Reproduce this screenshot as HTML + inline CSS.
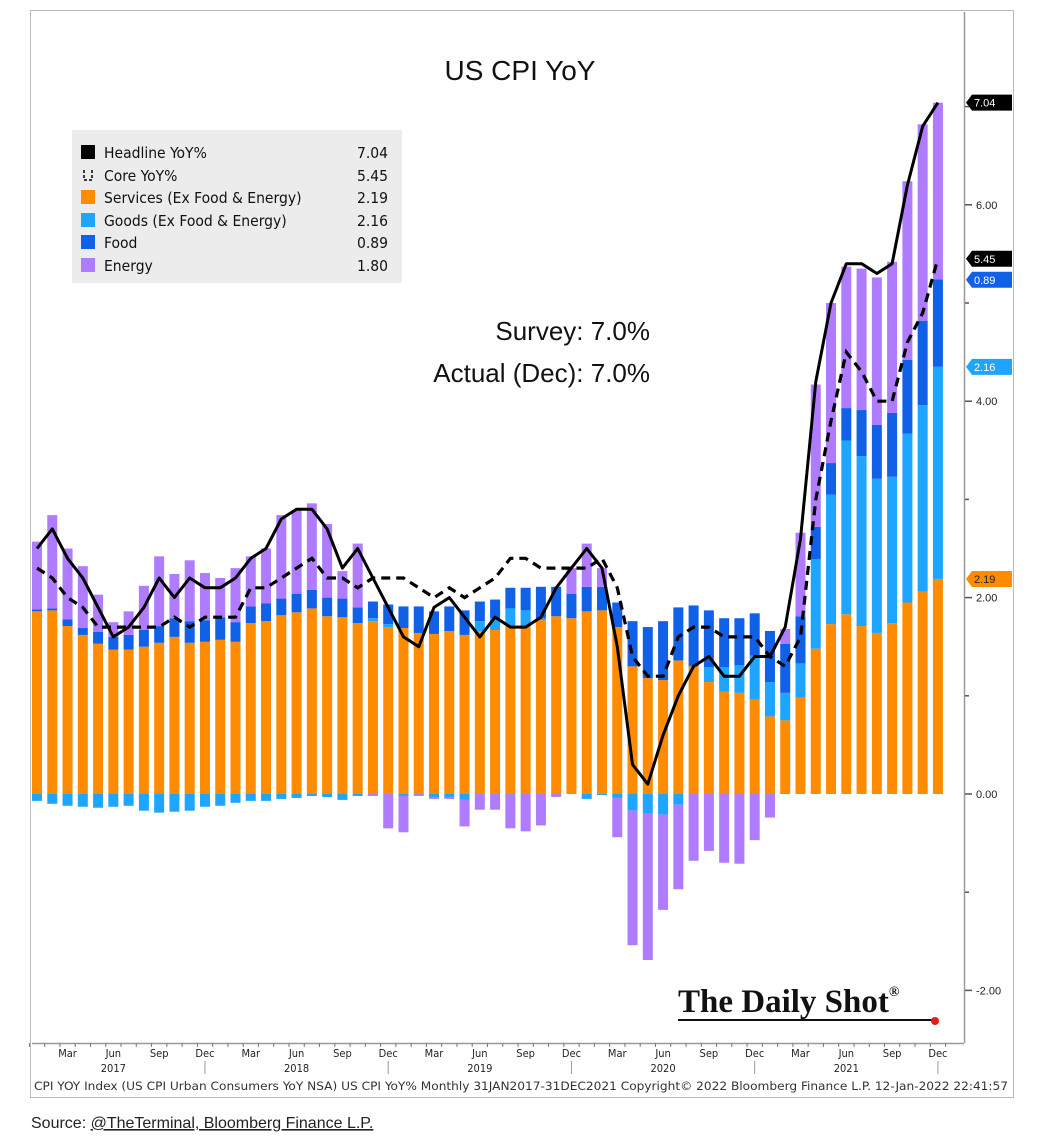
<!DOCTYPE html>
<html><head><meta charset="utf-8"><style>
body{margin:0;background:#fff;}
svg{display:block;font-family:"Liberation Sans",sans-serif;}
</style></head><body>
<svg id="chart" width="1038" height="1148" viewBox="0 0 1038 1148" xmlns="http://www.w3.org/2000/svg">
<rect x="30.5" y="10.5" width="983" height="1087" fill="#fff" stroke="#bbb"/>
<line x1="964.5" y1="12" x2="964.5" y2="1043" stroke="#999" stroke-width="1.5"/>
<line x1="32" y1="1043.5" x2="964" y2="1043.5" stroke="#999" stroke-width="1.5"/>
<text x="520" y="80" font-size="28" text-anchor="middle" fill="#111">US CPI YoY</text>
<g id="bars"></g>
<g id="lines"></g>
<g id="yaxis"></g>
<g id="xaxis"></g>
<g>
<rect x="72" y="130" width="330" height="153" fill="#ececec"/>
<g font-family="'DejaVu Sans Condensed','DejaVu Sans',sans-serif" font-size="15.5" fill="#111">
<rect x="81" y="145" width="14" height="14" fill="#000"/>
<text x="104" y="158">Headline YoY%</text><text x="357" y="158">7.04</text>
<path d="M84 170 v10 h8 v-10" fill="none" stroke="#000" stroke-width="1.5" stroke-dasharray="3,2"/>
<text x="104" y="181">Core YoY%</text><text x="357" y="181">5.45</text>
<rect x="81" y="190" width="14" height="14" fill="#ff8c00"/>
<text x="104" y="203">Services (Ex Food &amp; Energy)</text><text x="357" y="203">2.19</text>
<rect x="81" y="213" width="14" height="14" fill="#1ea5ff"/>
<text x="104" y="226">Goods (Ex Food &amp; Energy)</text><text x="357" y="226">2.16</text>
<rect x="81" y="235" width="14" height="14" fill="#1060e8"/>
<text x="104" y="248">Food</text><text x="357" y="248">0.89</text>
<rect x="81" y="258" width="14" height="14" fill="#b07cff"/>
<text x="104" y="271">Energy</text><text x="357" y="271">1.80</text>
</g></g>
<g font-size="26" fill="#111" text-anchor="end">
<text x="650" y="340">Survey:  7.0%</text>
<text x="650" y="382">Actual (Dec):  7.0%</text>
</g>
<g>
<text x="678" y="1012" font-family="'Liberation Serif',serif" font-weight="bold" font-size="33" fill="#111">The Daily Shot<tspan font-size="14" dy="-16">®</tspan></text>
<line x1="678" y1="1020" x2="935" y2="1020" stroke="#111" stroke-width="2"/>
<circle cx="935" cy="1021" r="4" fill="#e0201b"/>
</g>
<text x="34" y="1090" font-family="'DejaVu Sans Condensed',sans-serif" font-size="11.5" fill="#333" textLength="974" lengthAdjust="spacingAndGlyphs">CPI YOY Index (US CPI Urban Consumers YoY NSA) US CPI YoY% Monthly 31JAN2017-31DEC2021 Copyright© 2022 Bloomberg Finance L.P. 12-Jan-2022 22:41:57</text>
<text x="31" y="1128" font-size="16" fill="#222">Source: <tspan text-decoration="underline">@TheTerminal, Bloomberg Finance L.P.</tspan></text>
</svg>
<script>
const services=[1.86,1.87,1.71,1.62,1.53,1.47,1.47,1.50,1.54,1.60,1.54,1.55,1.57,1.55,1.74,1.76,1.82,1.85,1.89,1.81,1.80,1.74,1.76,1.70,1.69,1.64,1.63,1.66,1.62,1.66,1.67,1.71,1.71,1.77,1.81,1.79,1.86,1.87,1.70,1.30,1.18,1.16,1.36,1.30,1.14,1.04,1.03,0.96,0.79,0.75,0.98,1.48,1.73,1.83,1.71,1.64,1.74,1.95,2.06,2.19];
const goods=[-0.07,-0.10,-0.12,-0.13,-0.14,-0.13,-0.12,-0.17,-0.19,-0.18,-0.17,-0.13,-0.12,-0.09,-0.07,-0.07,-0.05,-0.04,-0.02,-0.03,-0.06,-0.02,0.03,0.03,-0.02,0.0,-0.03,-0.03,-0.06,0.10,0.12,0.18,0.16,0.02,0.0,0.0,-0.05,-0.01,-0.04,-0.17,-0.20,-0.21,-0.11,0.0,0.15,0.25,0.28,0.45,0.35,0.28,0.35,0.91,1.32,1.77,1.73,1.57,1.49,1.72,1.90,2.16];
const food=[0.02,0.02,0.07,0.07,0.12,0.13,0.15,0.17,0.17,0.19,0.22,0.22,0.23,0.20,0.17,0.18,0.17,0.19,0.19,0.19,0.19,0.16,0.17,0.20,0.22,0.27,0.23,0.25,0.25,0.20,0.19,0.21,0.23,0.32,0.30,0.25,0.25,0.24,0.25,0.46,0.52,0.60,0.54,0.62,0.58,0.50,0.48,0.43,0.52,0.50,0.48,0.33,0.32,0.33,0.47,0.55,0.65,0.75,0.86,0.89];
const energy=[0.69,0.95,0.72,0.63,0.38,0.15,0.24,0.45,0.71,0.45,0.62,0.48,0.40,0.55,0.51,0.56,0.85,0.85,0.88,0.75,0.28,0.65,-0.02,-0.35,-0.37,-0.02,-0.02,-0.02,-0.27,-0.16,-0.16,-0.35,-0.38,-0.32,-0.03,0.26,0.44,0.19,-0.40,-1.37,-1.49,-0.97,-0.86,-0.68,-0.58,-0.70,-0.71,-0.47,-0.24,0.15,0.85,1.45,1.63,1.44,1.44,1.50,1.54,1.82,2.00,1.80];
const headline=[2.5,2.7,2.4,2.2,1.9,1.6,1.7,1.9,2.2,2.0,2.2,2.1,2.1,2.2,2.4,2.5,2.8,2.9,2.9,2.7,2.3,2.5,2.2,1.9,1.6,1.5,1.9,2.0,1.8,1.6,1.8,1.7,1.7,1.8,2.1,2.3,2.5,2.3,1.5,0.3,0.1,0.6,1.0,1.3,1.4,1.2,1.2,1.4,1.4,1.7,2.6,4.2,5.0,5.4,5.4,5.3,5.4,6.2,6.8,7.04];
const core=[2.3,2.2,2.0,1.9,1.7,1.7,1.7,1.7,1.7,1.8,1.7,1.8,1.8,1.8,2.1,2.1,2.2,2.3,2.4,2.2,2.2,2.1,2.2,2.2,2.2,2.1,2.0,2.1,2.0,2.1,2.2,2.4,2.4,2.3,2.3,2.3,2.3,2.4,2.1,1.4,1.2,1.2,1.6,1.7,1.7,1.6,1.6,1.6,1.4,1.3,1.6,3.0,3.8,4.5,4.3,4.0,4.0,4.6,4.9,5.45];
const yTicks=[-2,0,2,4,6];
const monthLabels=["Mar","Jun","Sep","Dec"];
const years=["2017","2018","2019","2020","2021"];

const NS="http://www.w3.org/2000/svg";
const X=i=>37+i*15.27;
const Y=v=>794-98.2*v;
function mk(tag,attrs,parent){const e=document.createElementNS(NS,tag);for(const k in attrs)e.setAttribute(k,attrs[k]);parent.appendChild(e);return e;}
const gb=document.getElementById('bars');
const cols={services:"#ff8c00",goods:"#1ea5ff",food:"#1060e8",energy:"#b07cff"};
const series={services,goods,food,energy};
for(let i=0;i<services.length;i++){
  let pos=0,neg=0;
  for(const k of ["services","goods","food","energy"]){
    const v=series[k][i];if(v===0)continue;
    let y0,y1;
    if(v>0){y0=pos;y1=pos+v;pos=y1;}else{y0=neg;y1=neg+v;neg=y1;}
    const r=mk('rect',{x:X(i)-5,y:Math.min(Y(y0),Y(y1)),width:10,height:Math.abs(Y(y1)-Y(y0)),fill:cols[k]},gb);
    
    
  }
}
const gl=document.getElementById('lines');
const pts=a=>a.map((v,i)=>X(i).toFixed(1)+","+Y(v).toFixed(1)).join(" ");
const cl=mk('polyline',{points:pts(core),fill:"none",stroke:"#000","stroke-width":3.2,"stroke-dasharray":"9,6"},gl);


const hl=mk('polyline',{points:pts(headline),fill:"none",stroke:"#000","stroke-width":3,"stroke-linejoin":"round"},gl);



const gy=document.getElementById('yaxis');
for(let v=-2;v<=7;v++){
  const t=mk('line',{x1:965,x2:(yTicks.includes(v)?972:969),y1:Y(v),y2:Y(v),stroke:"#555","stroke-width":1.5},gy);
  
  
}
yTicks.forEach(v=>{
  const t=mk('text',{x:976,y:Y(v)+4,"font-size":11,fill:"#222"},gy);
  t.textContent=v.toFixed(2);
  
  
});
const last=services.length-1;
const tags=[
 [Y(headline[last]),headline[last].toFixed(2),"#000","#fff"],
 [Y(core[last]),core[last].toFixed(2),"#000","#fff"],
 [Y(core[last])+21,food[last].toFixed(2),"#1060e8","#fff"],
 [Y(services[last]+goods[last]),goods[last].toFixed(2),"#1ea5ff","#fff"],
 [Y(services[last]),services[last].toFixed(2),"#ff8c00","#222"]];
tags.forEach(t=>{
  const y=t[0];
  const g=mk('g',{},gy);
  
  
  mk('path',{d:`M966 ${y} L972 ${y-8} H1012 V${y+8} H972 Z`,fill:t[2]},g);
  const tx=mk('text',{x:974,y:y+4,"font-size":11,fill:t[3]},g);
  tx.textContent=t[1];
});

const gx=document.getElementById('xaxis');
for(let i=0;i<=60;i++){
  const l=mk('line',{x1:X(i)-7.6,x2:X(i)-7.6,y1:1043,y2:1047,stroke:"#777"},gx);
  
  
}
years.forEach((yr,yi)=>{
  monthLabels.forEach((m,mi)=>{
    const i=yi*12+2+mi*3;
    const t=mk('text',{x:X(i),y:1057,"font-size":11,"text-anchor":"middle",fill:"#222","font-family":"'DejaVu Sans Condensed',sans-serif"},gx);
    t.textContent=m;
    
    
  });
  const t=mk('text',{x:X(yi*12+5),y:1072,"font-size":11,"text-anchor":"middle",fill:"#222","font-family":"'DejaVu Sans Condensed',sans-serif"},gx);
  t.textContent=yr;
  
  
  const s=mk('line',{x1:X(yi*12+11),x2:X(yi*12+11),y1:1061,y2:1074,stroke:"#999"},gx);
  
  
});
</script>
</body></html>
